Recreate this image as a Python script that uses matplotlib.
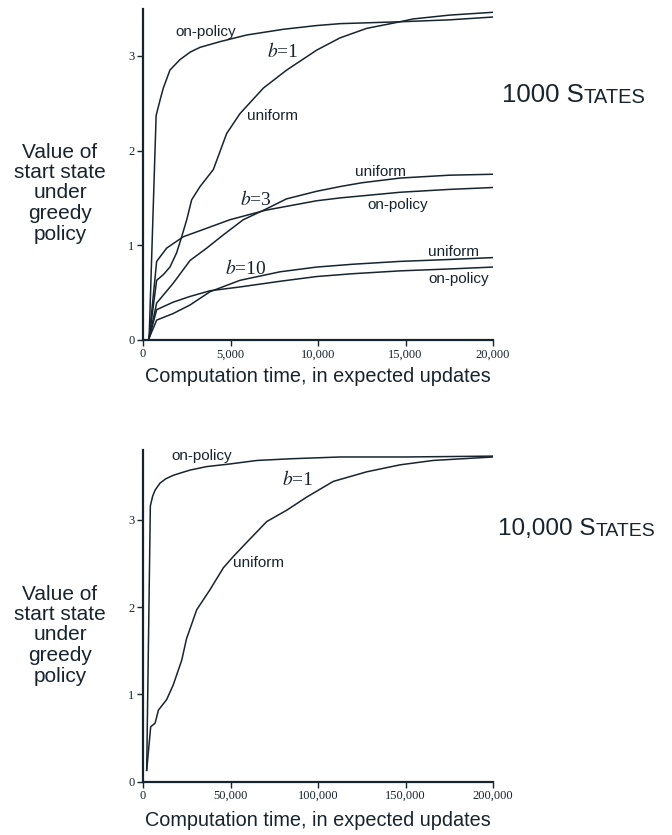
import matplotlib
matplotlib.use("Agg")
import matplotlib.pyplot as plt

plt.rcParams['mathtext.fontset'] = 'stix'
ink = '#17242e'
sans = 'Liberation Sans'
serif = 'Liberation Serif'

# ---- 1000 states (x in expected updates) ----
on_b1_x = [350, 750, 970, 1160, 1540, 2110, 2700, 3260, 4400, 5920, 8000, 9920, 11260, 14700, 17500, 20000]
on_b1_y = [0.02, 2.37, 2.53, 2.66, 2.85, 2.96, 3.04, 3.09, 3.15, 3.22, 3.28, 3.32, 3.34, 3.36, 3.38, 3.41]

uni_b1_x = [350, 780, 1160, 1540, 1920, 2210, 2500, 2780, 3260, 4020, 4780, 5540, 6880, 8210, 9920, 11260, 12780, 14690, 15450, 17500, 20000]
uni_b1_y = [0.02, 0.63, 0.69, 0.77, 0.92, 1.09, 1.27, 1.48, 1.62, 1.80, 2.18, 2.39, 2.66, 2.85, 3.06, 3.19, 3.29, 3.36, 3.39, 3.43, 3.46]

on_b3_x = [350, 780, 1350, 2300, 3640, 4970, 7000, 9920, 11260, 14700, 17500, 20000]
on_b3_y = [0.02, 0.83, 0.97, 1.09, 1.18, 1.27, 1.37, 1.47, 1.50, 1.56, 1.59, 1.61]

uni_b3_x = [350, 780, 1730, 2690, 3640, 4590, 5730, 7000, 8200, 9920, 11260, 12500, 14700, 17500, 20000]
uni_b3_y = [0.02, 0.39, 0.60, 0.84, 0.97, 1.11, 1.27, 1.38, 1.49, 1.57, 1.62, 1.66, 1.71, 1.74, 1.75]

on_b10_x = [350, 780, 1730, 2690, 3830, 5540, 7830, 9920, 12000, 14700, 17500, 20000]
on_b10_y = [0.02, 0.32, 0.40, 0.46, 0.52, 0.56, 0.62, 0.67, 0.70, 0.73, 0.75, 0.77]

uni_b10_x = [350, 780, 1730, 2690, 3830, 5540, 7830, 9920, 12000, 14700, 17500, 20000]
uni_b10_y = [0.02, 0.21, 0.28, 0.37, 0.51, 0.63, 0.72, 0.77, 0.80, 0.83, 0.85, 0.87]

# ---- 10,000 states ----
on_10k_x = [2100, 4200, 5500, 6900, 9700, 13000, 17300, 22000, 26900, 36400, 49700, 65000, 85000, 112600, 150000, 200000]
on_10k_y = [0.13, 3.16, 3.27, 3.34, 3.42, 3.47, 3.51, 3.54, 3.57, 3.61, 3.64, 3.68, 3.70, 3.72, 3.72, 3.73]

uni_10k_x = [2100, 4400, 6900, 8800, 13500, 17300, 22100, 24900, 30700, 38300, 45900, 51600, 61100, 70700, 82100, 93500, 108700, 127800, 146900, 165700, 200000]
uni_10k_y = [0.13, 0.63, 0.67, 0.82, 0.94, 1.11, 1.39, 1.64, 1.97, 2.20, 2.45, 2.58, 2.78, 2.98, 3.11, 3.26, 3.44, 3.55, 3.63, 3.68, 3.72]

W, H = 672, 835
fig = plt.figure(figsize=(6.72, 8.35), dpi=100)


def px_axes(left, top, right, bottom):
    return fig.add_axes([left / W, 1 - bottom / H, (right - left) / W, (bottom - top) / H])


def style(ax, xmax, ymax, xticks):
    ax.set_xlim(0, xmax)
    ax.set_ylim(0, ymax)
    for s in ['top', 'right']:
        ax.spines[s].set_visible(False)
    for s in ['left', 'bottom']:
        ax.spines[s].set_linewidth(1.6)
        ax.spines[s].set_color(ink)
    ax.set_xticks(xticks)
    ax.set_xticklabels(['{:,}'.format(t) for t in xticks], fontfamily=serif, fontsize=9, color=ink)
    ax.set_yticks([0, 1, 2, 3])
    ax.set_yticklabels(['0', '1', '2', '3'], fontfamily=serif, fontsize=9, color=ink)
    ax.tick_params(direction='out', length=4, width=1, color=ink, pad=2)


def lab(ax, x, y, s):
    ax.text(x, y, s, fontfamily=sans, fontsize=11, color=ink, va='center')


def blab(ax, x, y, s):
    ax.text(x, y, s, fontfamily=serif, fontsize=14, color=ink, va='center')


lw = 1.1

# top panel
ax1 = px_axes(143, 8.5, 493, 340)
for xs, ys in [(on_b1_x, on_b1_y), (uni_b1_x, uni_b1_y), (on_b3_x, on_b3_y),
               (uni_b3_x, uni_b3_y), (on_b10_x, on_b10_y), (uni_b10_x, uni_b10_y)]:
    ax1.plot(xs, ys, color=ink, lw=lw)
style(ax1, 20000, 3.5, [0, 5000, 10000, 15000, 20000])
lab(ax1, 1830, 3.25, 'on-policy')
blab(ax1, 7070, 3.05, r'$b$=1')
lab(ax1, 5930, 2.36, 'uniform')
lab(ax1, 12100, 1.77, 'uniform')
blab(ax1, 5540, 1.48, r'$b$=3')
lab(ax1, 12800, 1.43, 'on-policy')
lab(ax1, 16300, 0.93, 'uniform')
blab(ax1, 4690, 0.76, r'$b$=10')
lab(ax1, 16300, 0.64, 'on-policy')

# bottom panel
ax2 = px_axes(143, 450, 493, 781.7)
ax2.plot(on_10k_x, on_10k_y, color=ink, lw=lw)
ax2.plot(uni_10k_x, uni_10k_y, color=ink, lw=lw)
style(ax2, 200000, 3.8, [0, 50000, 100000, 150000, 200000])
lab(ax2, 16400, 3.73, 'on-policy')
blab(ax2, 79200, 3.46, r'$b$=1')
lab(ax2, 51600, 2.50, 'uniform')

ylab = 'Value of\nstart state\nunder\ngreedy\npolicy'
for cy in [193, 635]:
    fig.text(60 / W, 1 - cy / H, ylab, ha='center', va='center', multialignment='center',
             fontfamily=sans, fontsize=15, color=ink, linespacing=1.1)

for cy in [377, 821]:
    fig.text(318 / W, 1 - cy / H, 'Computation time, in expected updates', ha='center', va='center',
             fontfamily=sans, fontsize=14.3, color=ink)

t1 = fig.text(502 / W, 1 - 101.7 / H, '1000 S', ha='left', va='baseline',
              fontfamily=sans, fontsize=18.5, color=ink)
ax1.annotate('TATES', xy=(1, 0), xycoords=t1, ha='left', va='bottom',
             fontfamily=sans, fontsize=14.5, color=ink, annotation_clip=False)
t2 = fig.text(498 / W, 1 - 535 / H, '10,000 S', ha='left', va='baseline',
              fontfamily=sans, fontsize=17.5, color=ink)
ax2.annotate('TATES', xy=(1, 0), xycoords=t2, ha='left', va='bottom',
             fontfamily=sans, fontsize=14, color=ink, annotation_clip=False)

fig.savefig('out.png', dpi=100)
